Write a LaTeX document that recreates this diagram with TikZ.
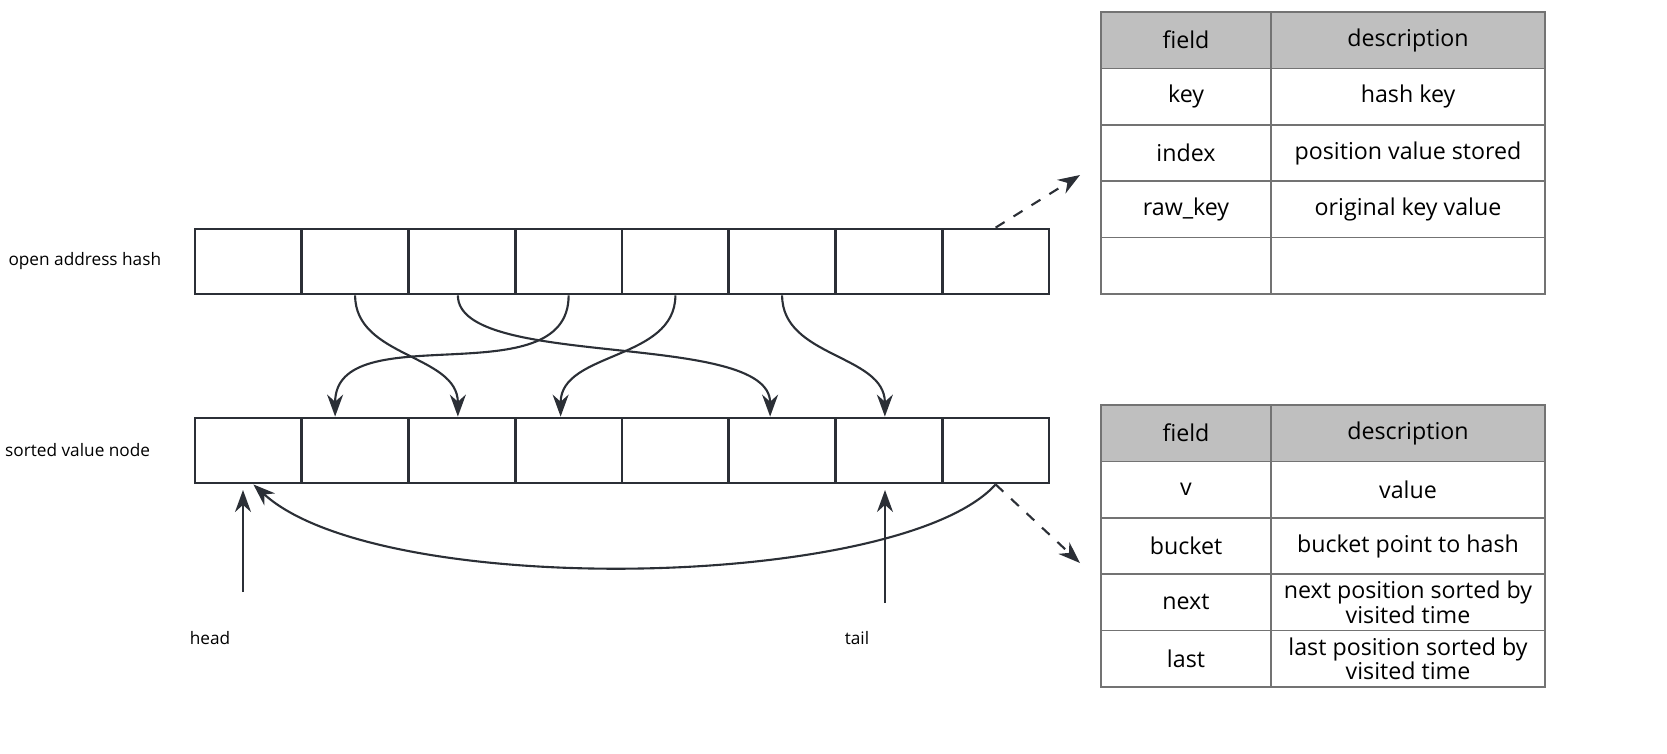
\documentclass[tikz,border=0pt]{standalone}
\usepackage{fontspec}
\setmainfont{Open Sans}
\usetikzlibrary{arrows.meta,positioning}
\definecolor{ink}{HTML}{2B2F36}
\definecolor{headgray}{HTML}{BFBFBF}
\tikzset{
  cell/.style={draw=ink, line width=0.8pt, minimum width=1.0675cm, minimum height=0.65cm, inner sep=0pt},
  tcell/.style={draw=gray!90!black, line width=0.4pt, inner sep=0pt, font=\fontsize{6.6pt}{7pt}\selectfont, align=center},
  link/.style={draw=ink, line width=0.6pt, -{Stealth[length=2.2mm,width=1.6mm]}},
  lab/.style={font=\fontsize{4.9pt}{5.5pt}\selectfont, text=black}
}
\begin{document}
\begin{tikzpicture}[x=0.01cm, y=-0.01cm]
\useasboundingbox (0,0) rectangle (1667,753);

% arrays
\foreach \i in {1,...,8}
{
  \node[cell] (h\i) at ({195+106.75*(\i-0.5)}, 261.5) {};
  \node[cell] (s\i) at ({195+106.75*(\i-0.5)}, 450.5) {};
}
\node[lab, left=0.2cm of h1] (hashlab) {open address hash};
\node[lab, left=0.31cm of s1] (sortlab) {sorted value node};

% links between hash and nodes
\draw[link] (h2.south) to[out=-90, in=90] ([xshift=-0.04cm]s3.north);
\draw[link] (h4.south) to[out=-90, in=90] ([xshift=-0.2cm]s2.north);
\draw[link] ([xshift=-0.04cm]h3.south) .. controls (458,370) and (770,330) .. ([xshift=-0.12cm]s6.north);
\draw[link] (h5.south) to[out=-90, in=90] ([xshift=-0.08cm]s4.north);
\draw[link] (h6.south) to[out=-90, in=90] ([xshift=-0.04cm]s7.north);
\draw[link] (s8.south) .. controls (900,590) and (380,600) .. ([xshift=0.05cm]s1.south);

% head and tail
\coordinate (headfoot) at (243,592);
\coordinate (tailfoot) at (885,603);
\draw[link] (headfoot) -- (243,490);
\draw[link] (tailfoot) -- (885,490);
\node[lab] (headlab) at (210,638) {head};
\node[lab] (taillab) at (857,638) {tail};

% table for hash
\fill[headgray] (1101,12) rectangle (1545,68);
\foreach \r/\f/\d [count=\n] in {0/field/description, 1/key/hash key, 2/index/position value stored, 3/raw\_key/original key value, 4/{}/{}}
{
  \node[tcell, minimum width=1.7cm, minimum height=0.565cm] (hf\n) at (1186, {12+56.4*(\r+0.5)}) {\f};
  \node[tcell, minimum width=2.74cm, minimum height=0.565cm] (hd\n) at (1408, {12+56.4*(\r+0.5)}) {\d};
}

% table for node
\fill[headgray] (1101,405) rectangle (1545,462);
\foreach \r/\f/\d [count=\n] in {0/field/description, 1/v/value, 2/bucket/bucket point to hash, 3/next/next position sorted by\\visited time, 4/last/last position sorted by\\visited time}
{
  \node[tcell, minimum width=1.7cm, minimum height=0.565cm] (nf\n) at (1186, {405+56.4*(\r+0.5)}) {\f};
  \node[tcell, minimum width=2.74cm, minimum height=0.565cm] (nd\n) at (1408, {405+56.4*(\r+0.5)}) {\d};
}

% dashed pointers
\coordinate (hashtip) at (1080,175);
\coordinate (nodetip) at (1080,563);
\draw[link, dashed] (h8.north) -- (hashtip);
\draw[link, dashed] (s8.south) -- (nodetip);
\end{tikzpicture}
\end{document}
